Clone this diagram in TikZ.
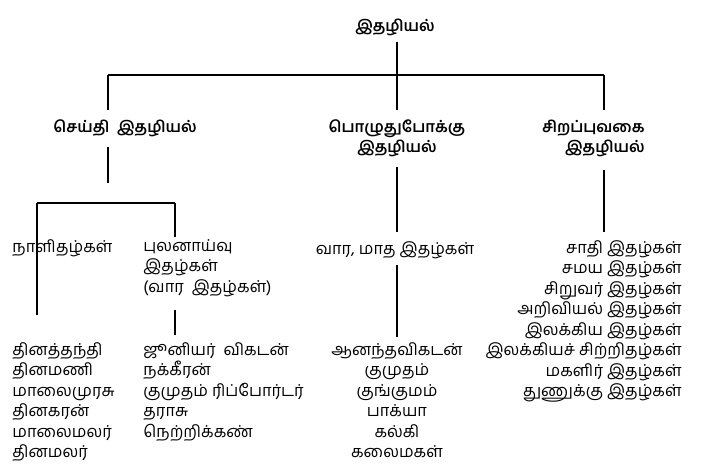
\documentclass[tikz,border=0pt]{standalone}
\usepackage{fontspec}
\setmainfont[Script=Tamil]{Hind Madurai}
\usetikzlibrary{positioning}
\tikzset{
  head/.style={font=\fontsize{7.8}{10}\selectfont\bfseries, inner sep=0pt, align=center},
  item/.style={font=\fontsize{8.2}{10.25}\selectfont, inner sep=0pt},
  link/.style={line width=0.6pt}
}
\begin{document}
\begin{tikzpicture}[x=0.5pt, y=-0.5pt]
			\useasboundingbox (0,0) rectangle (702,475);
			% top levels
			\node[head] (root) at (395,27) {இதழியல்};
			\node[head] (news) at (125,128) {செய்தி\ \ இதழியல்};
			\node[head] (leisure) at (397,138) {பொழுதுபோக்கு\\இதழியல்};
			\node[head, align=right, anchor=east] (special) at (645,138) {சிறப்புவகை\\இதழியல்};
			% second levels
			\node[item, anchor=west] (daily) at (12,248) {நாளிதழ்கள்};
			\node[item, align=left, anchor=north west] (probe) at (143,239) {புலனாய்வு\\இதழ்கள்\\(வார\ \ இதழ்கள்)};
			\node[item] (weekly) at (395,250) {வார, மாத\ இதழ்கள்};
			\node[item, align=right, anchor=north east] (speclist) at (682,240) {சாதி\ இதழ்கள்\\சமய\ இதழ்கள்\\சிறுவர்\ இதழ்கள்\\அறிவியல்\ இதழ்கள்\\இலக்கிய\ இதழ்கள்\\இலக்கியச்\ சிற்றிதழ்கள்\\மகளிர்\ இதழ்கள்\\துணுக்கு\ இதழ்கள்};
			% lists
			\node[item, align=left, anchor=north west] (dailylist) at (12,342) {தினத்தந்தி\\தினமணி\\மாலைமுரசு\\தினகரன்\\மாலைமலர்\\தினமலர்};
			\node[item, align=left, anchor=north west] (probelist) at (143,342) {ஜூனியர்\ \ விகடன்\\நக்கீரன்\\குமுதம்\ ரிப்போர்டர்\\தராசு\\நெற்றிக்கண்};
			\node[item, align=center, anchor=north] (weeklylist) at (397,342) {ஆனந்தவிகடன்\\குமுதம்\\குங்குமம்\\பாக்யா\\கல்கி\\கலைமகள்};
			% connectors
			\coordinate (barL) at (108,75);
			\coordinate (barR) at (604,75);
			\coordinate (subL) at (37,203);
			\coordinate (subR) at (175,203);
			\draw[link] (397,42) -- (397,110);
			\draw[link] (barL) -- (barR);
			\draw[link] (barL) -- (108,110);
			\draw[link] (barR) -- (604,110);
			\draw[link] (108,147) -- (108,183);
			\draw[link] (subL) -- (subR);
			\draw[link] (subL) -- (37,315);
			\draw[link] (subR) -- (175,237);
			\draw[link] (175,310) -- (175,335);
			\draw[link] (397,167) -- (397,232);
			\draw[link] (397,265) -- (397,337);
			\draw[link] (604,170) -- (604,232);
\end{tikzpicture}
\end{document}
